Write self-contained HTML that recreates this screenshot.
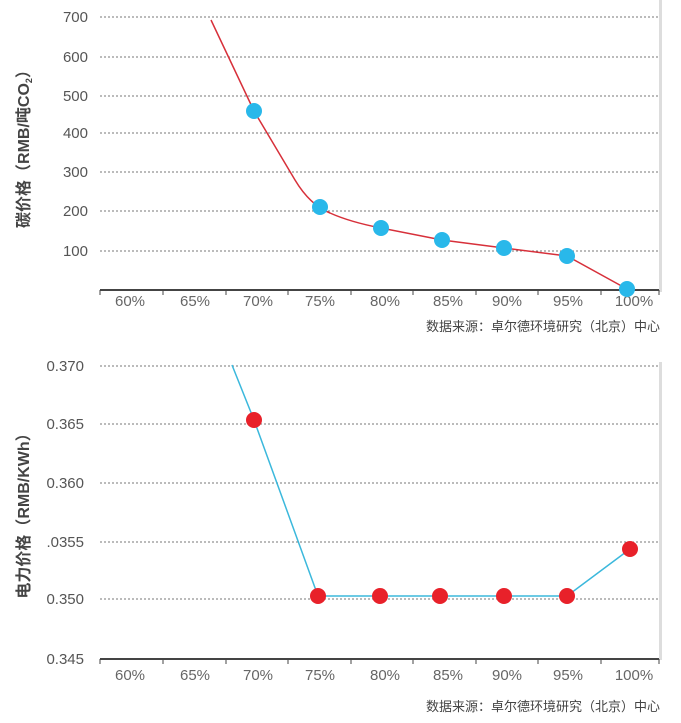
<!DOCTYPE html><html><head><meta charset="utf-8"><style>body{margin:0;background:#fff}svg{display:block}text{font-family:"Liberation Sans","Noto Sans CJK SC",sans-serif}</style></head><body>
<svg width="681" height="723" viewBox="0 0 681 723">
<rect x="659" y="0" width="3" height="292" fill="#ddd"/>
<rect x="659" y="362" width="3" height="298" fill="#ddd"/>
<g stroke="#777" stroke-dasharray="2,2" stroke-width="1">
<line x1="100" y1="17" x2="659" y2="17"/><line x1="100" y1="57" x2="659" y2="57"/><line x1="100" y1="96" x2="659" y2="96"/><line x1="100" y1="133" x2="659" y2="133"/><line x1="100" y1="172" x2="659" y2="172"/><line x1="100" y1="211" x2="659" y2="211"/><line x1="100" y1="251" x2="659" y2="251"/>
<line x1="100" y1="366" x2="659" y2="366"/><line x1="100" y1="424" x2="659" y2="424"/><line x1="100" y1="483" x2="659" y2="483"/><line x1="100" y1="542" x2="659" y2="542"/><line x1="100" y1="599" x2="659" y2="599"/>
</g>
<g fill="#555" font-size="15" text-anchor="end">
<text x="88" y="22">700</text><text x="88" y="62">600</text><text x="88" y="101">500</text><text x="88" y="138">400</text><text x="88" y="177">300</text><text x="88" y="216">200</text><text x="88" y="256">100</text>
<text x="84" y="371">0.370</text><text x="84" y="429">0.365</text><text x="84" y="488">0.360</text><text x="84" y="547">.0355</text><text x="84" y="604">0.350</text><text x="84" y="664">0.345</text>
</g>
<g stroke="#444" stroke-width="2"><line x1="100" y1="290" x2="659" y2="290"/><line x1="100" y1="659" x2="659" y2="659"/></g>
<g stroke="#444" stroke-width="1">
<path d="M100 290v5M163 290v5M226 290v5M288 290v5M351 290v5M413 290v5M476 290v5M538 290v5M601 290v5M659 290v5"/>
<path d="M100 659v5M163 659v5M226 659v5M288 659v5M351 659v5M413 659v5M476 659v5M538 659v5M601 659v5M659 659v5"/>
</g>
<g fill="#666" font-size="15" text-anchor="middle">
<text x="130" y="306">60%</text><text x="195" y="306">65%</text><text x="258" y="306">70%</text><text x="320" y="306">75%</text><text x="385" y="306">80%</text><text x="448" y="306">85%</text><text x="507" y="306">90%</text><text x="568" y="306">95%</text><text x="634" y="306">100%</text>
<text x="130" y="680">60%</text><text x="195" y="680">65%</text><text x="258" y="680">70%</text><text x="320" y="680">75%</text><text x="385" y="680">80%</text><text x="448" y="680">85%</text><text x="507" y="680">90%</text><text x="568" y="680">95%</text><text x="634" y="680">100%</text>
</g>
<g fill="#444" font-size="13" text-anchor="end"><text x="660" y="331">数据来源：卓尔德环境研究（北京）中心</text><text x="660" y="711">数据来源：卓尔德环境研究（北京）中心</text></g>
<text transform="translate(29,145) rotate(-90)" text-anchor="middle" font-size="16" font-weight="bold" fill="#444">碳价格（RMB/吨CO<tspan font-size="9" dy="3">2</tspan><tspan dy="-3">）</tspan></text>
<text transform="translate(29,512) rotate(-90)" text-anchor="middle" font-size="16" font-weight="bold" fill="#444">电力价格（RMB/KWh）</text>
<path d="M211 20 L254 111 L295 180 Q310 205 330 213 Q350 222 381 228 L442 240 L504 248 L567 256 L627 289" fill="none" stroke="#d7303a" stroke-width="1.5"/>
<g fill="#29b8ea"><circle cx="254" cy="111" r="8"/><circle cx="320" cy="207" r="8"/><circle cx="381" cy="228" r="8"/><circle cx="442" cy="240" r="8"/><circle cx="504" cy="248" r="8"/><circle cx="567" cy="256" r="8"/><circle cx="627" cy="289" r="8"/></g>
<path d="M232 365 L254 420 L318 596 L567 596 L630 549" fill="none" stroke="#3bb8dc" stroke-width="1.5"/>
<g fill="#e8212a"><circle cx="254" cy="420" r="8"/><circle cx="318" cy="596" r="8"/><circle cx="380" cy="596" r="8"/><circle cx="440" cy="596" r="8"/><circle cx="504" cy="596" r="8"/><circle cx="567" cy="596" r="8"/><circle cx="630" cy="549" r="8"/></g>
</svg></body></html>
